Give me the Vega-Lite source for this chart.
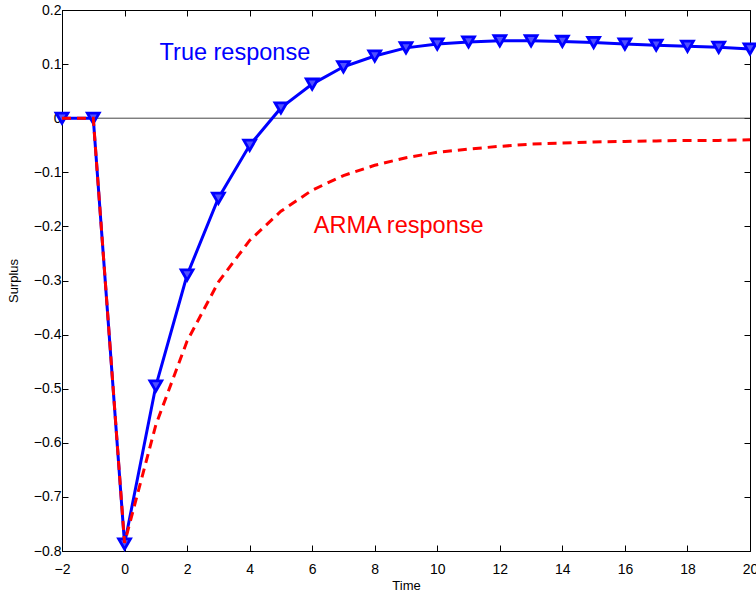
{
  "$schema": "https://vega.github.io/schema/vega-lite/v6.json",
  "width": 688,
  "height": 541,
  "autosize": {"type": "none"},
  "padding": {"left": 62, "top": 10, "right": 6, "bottom": 42},
  "background": "white",
  "config": {
    "view": {"stroke": "black", "strokeWidth": 1},
    "font": "Liberation Sans",
    "axis": {
      "domainColor": "black", "tickColor": "black", "labelColor": "black", "titleColor": "black",
      "labelFont": "Liberation Sans", "titleFont": "Liberation Sans", "labelFontSize": 14,
      "titleFontSize": 13, "titleFontWeight": "normal", "grid": false, "tickSize": -6,
      "labelFlush": false, "labelOverlap": false, "labelBound": false
    }
  },
  "datasets": {
    "resp": [
      {"t": -2, "v": 0, "s": "True"}, {"t": -1, "v": 0, "s": "True"}, {"t": 0, "v": -0.787, "s": "True"},
      {"t": 1, "v": -0.495, "s": "True"}, {"t": 2, "v": -0.290, "s": "True"}, {"t": 3, "v": -0.148, "s": "True"},
      {"t": 4, "v": -0.050, "s": "True"}, {"t": 5, "v": 0.019, "s": "True"}, {"t": 6, "v": 0.063, "s": "True"},
      {"t": 7, "v": 0.095, "s": "True"}, {"t": 8, "v": 0.115, "s": "True"}, {"t": 9, "v": 0.130, "s": "True"},
      {"t": 10, "v": 0.137, "s": "True"}, {"t": 11, "v": 0.141, "s": "True"}, {"t": 12, "v": 0.143, "s": "True"},
      {"t": 13, "v": 0.143, "s": "True"}, {"t": 14, "v": 0.142, "s": "True"}, {"t": 15, "v": 0.140, "s": "True"},
      {"t": 16, "v": 0.137, "s": "True"}, {"t": 17, "v": 0.135, "s": "True"}, {"t": 18, "v": 0.133, "s": "True"},
      {"t": 19, "v": 0.131, "s": "True"}, {"t": 20, "v": 0.128, "s": "True"},
      {"t": -2, "v": 0, "s": "ARMA"}, {"t": -1, "v": 0, "s": "ARMA"}, {"t": 0, "v": -0.785, "s": "ARMA"},
      {"t": 1, "v": -0.567, "s": "ARMA"}, {"t": 2, "v": -0.412, "s": "ARMA"}, {"t": 3, "v": -0.303, "s": "ARMA"},
      {"t": 4, "v": -0.226, "s": "ARMA"}, {"t": 5, "v": -0.172, "s": "ARMA"}, {"t": 6, "v": -0.133, "s": "ARMA"},
      {"t": 7, "v": -0.106, "s": "ARMA"}, {"t": 8, "v": -0.087, "s": "ARMA"}, {"t": 9, "v": -0.073, "s": "ARMA"},
      {"t": 10, "v": -0.063, "s": "ARMA"}, {"t": 11, "v": -0.057, "s": "ARMA"}, {"t": 12, "v": -0.052, "s": "ARMA"},
      {"t": 13, "v": -0.048, "s": "ARMA"}, {"t": 14, "v": -0.046, "s": "ARMA"}, {"t": 15, "v": -0.044, "s": "ARMA"},
      {"t": 16, "v": -0.043, "s": "ARMA"}, {"t": 17, "v": -0.042, "s": "ARMA"}, {"t": 18, "v": -0.041, "s": "ARMA"},
      {"t": 19, "v": -0.041, "s": "ARMA"}, {"t": 20, "v": -0.040, "s": "ARMA"}
    ],
    "labels": [
      {"t": 1.12, "v": 0.1076, "txt": "True response", "s": "True"},
      {"t": 6.05, "v": -0.2128, "txt": "ARMA response", "s": "ARMA"}
    ]
  },
  "resolve": {"axis": {"x": "independent", "y": "independent"}},
  "layer": [
    {
      "data": {"values": [{"z": 0}]},
      "mark": {"type": "rule", "color": "#444444", "strokeWidth": 1},
      "encoding": {
        "y": {"field": "z", "type": "quantitative", "scale": {"domain": [-0.8, 0.2]},
          "axis": {"orient": "left", "title": "Surplus", "values": [-0.8,-0.7,-0.6,-0.5,-0.4,-0.3,-0.2,-0.1,0,0.1,0.2],
            "labelPadding": 7,
            "labelExpr": "datum.value == 0 ? '0' : replace(format(datum.value, '.1f'), '-', '–')", "titlePadding": 13}}
      }
    },
    {
      "data": {"name": "resp"},
      "transform": [{"filter": "datum.s == 'True'"}],
      "mark": {"type": "line", "color": "#0000ff", "strokeWidth": 3},
      "encoding": {
        "x": {"field": "t", "type": "quantitative", "scale": {"domain": [-2, 20], "nice": false},
          "axis": {"orient": "bottom", "title": "Time", "values": [-2,0,2,4,6,8,10,12,14,16,18,20],
            "labelPadding": 17,
            "labelExpr": "replace(format(datum.value, 'd'), '-', '–')", "titlePadding": 3}},
        "y": {"field": "v", "type": "quantitative", "scale": {"domain": [-0.8, 0.2]}, "axis": null}
      }
    },
    {
      "data": {"name": "resp"},
      "transform": [{"filter": "datum.s == 'True'"}],
      "mark": {"type": "point", "shape": "triangle-down", "filled": true, "fill": "#5050ff", "stroke": "#0000ff", "strokeWidth": 2.8, "size": 140, "opacity": 1},
      "encoding": {
        "x": {"field": "t", "type": "quantitative", "scale": {"domain": [-2, 20], "nice": false},
          "axis": {"orient": "top", "labels": false, "title": null, "values": [-2,0,2,4,6,8,10,12,14,16,18,20]}},
        "y": {"field": "v", "type": "quantitative", "scale": {"domain": [-0.8, 0.2]},
          "axis": {"orient": "right", "labels": false, "title": null, "values": [-0.8,-0.7,-0.6,-0.5,-0.4,-0.3,-0.2,-0.1,0,0.1,0.2]}}
      }
    },
    {
      "data": {"name": "resp"},
      "transform": [{"filter": "datum.s == 'ARMA'"}],
      "mark": {"type": "line", "color": "#ff0000", "strokeWidth": 3, "strokeDash": [9, 6]},
      "encoding": {
        "x": {"field": "t", "type": "quantitative", "scale": {"domain": [-2, 20], "nice": false}, "axis": null},
        "y": {"field": "v", "type": "quantitative", "scale": {"domain": [-0.8, 0.2]}, "axis": null}
      }
    },
    {
      "data": {"name": "labels"},
      "mark": {"type": "text", "align": "left", "baseline": "alphabetic", "fontSize": 23.5, "font": "Liberation Sans"},
      "encoding": {
        "x": {"field": "t", "type": "quantitative", "scale": {"domain": [-2, 20], "nice": false}, "axis": null},
        "y": {"field": "v", "type": "quantitative", "scale": {"domain": [-0.8, 0.2]}, "axis": null},
        "text": {"field": "txt"},
        "color": {"field": "s", "type": "nominal", "scale": {"domain": ["True", "ARMA"], "range": ["#0000ff", "#ff0000"]}, "legend": null}
      }
    }
  ]
}
